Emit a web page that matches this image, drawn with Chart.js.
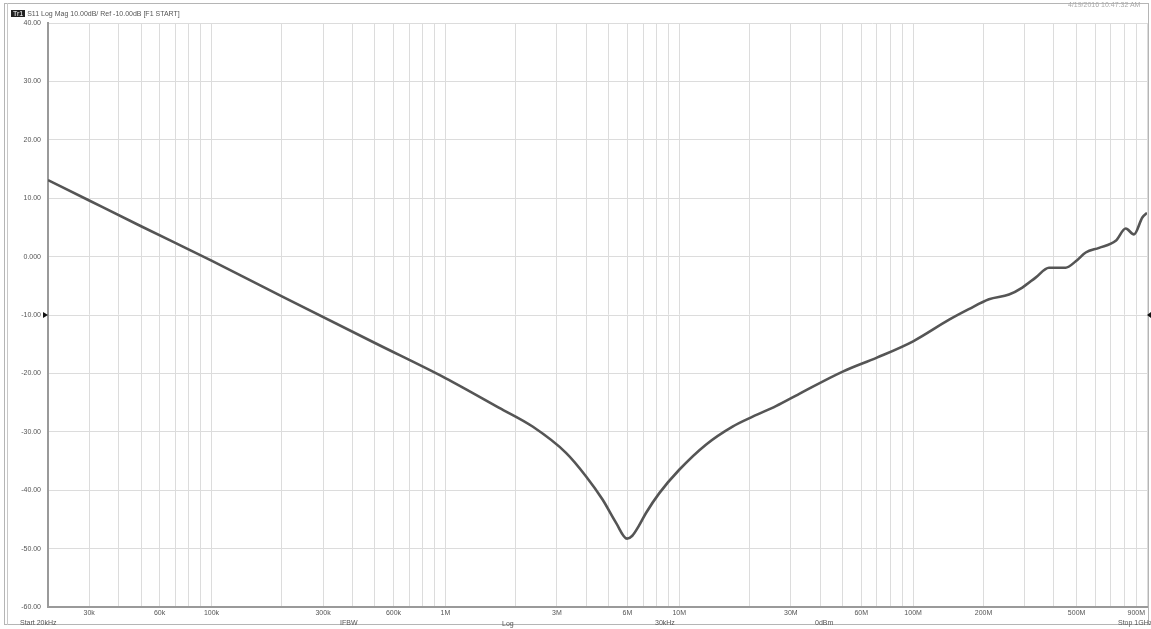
<!DOCTYPE html>
<html>
<head>
<meta charset="utf-8">
<script src="https://cdn.jsdelivr.net/npm/chart.js@4.4.1/dist/chart.umd.min.js"></script>
<style>
  html, body { margin: 0; padding: 0; background: #fff; }
  #wrap { position: relative; width: 1151px; height: 629px; overflow: hidden; }
  #frame { position: absolute; left: 4px; top: 3px; width: 1145px; height: 622px; border: 1px solid #b5b5b5; box-sizing: border-box; }
  #frame2 { position: absolute; left: 7px; top: 3px; width: 1px; height: 622px; background: #c8c8c8; }
  canvas { position: absolute; left: 0; top: 0; }
  .ann { position: absolute; font: 7px 'Liberation Sans', Arial, sans-serif; color: #555; white-space: nowrap; line-height: 8px; }
  #tr { background: #222; color: #fff; padding: 0 2px; }
</style>
</head>
<body>
<div id="wrap">
  <div id="frame"></div>
  <div id="frame2"></div>
  <canvas id="c" width="1151" height="629"></canvas>
  <div class="ann" style="left:11px; top:10px;"><span id="tr">Tr1</span> S11 Log Mag 10.00dB/ Ref -10.00dB [F1 START]</div>
  <div class="ann" style="left:1068px; top:1px; color:#aaa;">4/19/2016 10:47:32 AM</div>
  <div class="ann" style="left:20px; top:619px;">Start 20kHz</div>
  <div class="ann" style="left:340px; top:619px;">IFBW</div>
  <div class="ann" style="left:502px; top:620px;">Log</div>
  <div class="ann" style="left:655px; top:619px;">30kHz</div>
  <div class="ann" style="left:815px; top:619px;">0dBm</div>
  <div class="ann" style="left:1118px; top:619px;">Stop 1GHz</div>
</div>
<script>
// S11 magnitude sweep
const freqHz = [2e4, 3e4, 5e4, 1e5, 2e5, 5e5, 1e6, 1.7e6, 2.36e6, 3.28e6, 3.99e6, 4.7e6, 5.37e6, 5.98e6,
  6.3e6, 6.7e6, 7.21e6, 8.22e6, 1e7, 1.3e7, 1.69e7, 2.06e7, 2.59e7, 3.26e7, 5e7, 7e7, 1e8, 1.426e8, 1.73e8,
  2.11e8, 2.57e8, 2.93e8, 3.34e8, 3.81e8, 4.49e8, 4.96e8, 5.47e8, 6.24e8, 7.35e8, 8.11e8, 8.8e8, 9.55e8, 1e9];
const s11dB = [13.1, 9.6, 5.2, -0.7, -6.8, -14.8, -20.8, -25.9, -29.1, -33.6, -37.6, -41.6, -45.6, -48.3,
  -47.8, -46.2, -43.9, -40.5, -36.5, -32.2, -29.1, -27.4, -25.6, -23.5, -19.7, -17.3, -14.5, -10.8, -9.0,
  -7.3, -6.5, -5.3, -3.6, -1.9, -1.9, -0.8, 0.7, 1.5, 2.7, 4.8, 3.8, 6.7, 7.5];

const xDecades = [1e4, 1e5, 1e6, 1e7, 1e8];
const xMantissas = [1, 2, 3, 4, 5, 6, 7, 8, 9];
const xLabelHz = [3e4, 6e4, 1e5, 3e5, 6e5, 1e6, 3e6, 6e6, 1e7, 3e7, 6e7, 1e8, 2e8, 5e8, 9e8];
const xLabelText = ['30k', '60k', '100k', '300k', '600k', '1M', '3M', '6M', '10M', '30M', '60M', '100M', '200M', '500M', '900M'];
const yTicks = [-60, -50, -40, -30, -20, -10, 0, 10, 20, 30, 40];
const yTickLabels = ['-60.00', '-50.00', '-40.00', '-30.00', '-20.00', '-10.00', '0.000', '10.00', '20.00', '30.00', '40.00'];
const refLevel = -10;

const xMin = 2e4, xMax = 1e9;
const gridHz = [];
xDecades.forEach((d) => xMantissas.forEach((m) => {
  const v = d * m;
  if (v >= xMin && v <= xMax) gridHz.push(v);
}));
gridHz.push(xMax);

function xLabel(v) {
  const i = xLabelHz.findIndex((h) => Math.abs(h - v) / h < 1e-6);
  return i >= 0 ? xLabelText[i] : '';
}

const refMarkers = {
  id: 'refMarkers',
  afterDraw(chart) {
    const { ctx, chartArea } = chart;
    const y = chart.scales.y.getPixelForValue(refLevel);
    ctx.save();
    ctx.fillStyle = '#111';
    ctx.beginPath();
    ctx.moveTo(chartArea.left, y);
    ctx.lineTo(chartArea.left - 5, y - 3);
    ctx.lineTo(chartArea.left - 5, y + 3);
    ctx.fill();
    ctx.beginPath();
    ctx.moveTo(chartArea.right, y);
    ctx.lineTo(chartArea.right + 4, y - 3);
    ctx.lineTo(chartArea.right + 4, y + 3);
    ctx.fill();
    ctx.restore();
  },
};

const tickFont = { family: "'Liberation Sans', Arial, sans-serif", size: 7 };

new Chart(document.getElementById('c'), {
  type: 'line',
  data: {
    datasets: [{
      data: freqHz.map((f, i) => ({ x: f, y: s11dB[i] })),
      borderColor: '#555',
      borderWidth: 2.6,
      pointRadius: 0,
      cubicInterpolationMode: 'monotone',
      fill: false,
    }],
  },
  options: {
    responsive: false,
    animation: false,
    devicePixelRatio: 1,
    layout: { padding: { left: 0, right: 4, top: 23, bottom: 0 } },
    plugins: { legend: { display: false }, tooltip: { enabled: false } },
    scales: {
      x: {
        type: 'logarithmic',
        min: xMin,
        max: xMax,
        afterBuildTicks: (s) => { s.ticks = gridHz.map((v) => ({ value: v })); },
        afterFit: (s) => { s.height = 22; },
        ticks: { callback: (v) => xLabel(v), autoSkip: false, maxRotation: 0, font: tickFont, color: '#555', padding: 2 },
        grid: { color: '#dcdcdc', lineWidth: 1, drawTicks: false },
        border: { color: '#9a9a9a', width: 2 },
      },
      y: {
        min: -60,
        max: 40,
        afterBuildTicks: (s) => { s.ticks = yTicks.map((v) => ({ value: v })); },
        afterFit: (s) => { s.width = 48; },
        ticks: { callback: (v) => yTickLabels[yTicks.indexOf(v)], font: tickFont, color: '#555', padding: 7 },
        grid: { color: '#dcdcdc', lineWidth: 1, drawTicks: false },
        border: { color: '#9a9a9a', width: 2 },
      },
    },
  },
  plugins: [refMarkers],
});
</script>
</body>
</html>
